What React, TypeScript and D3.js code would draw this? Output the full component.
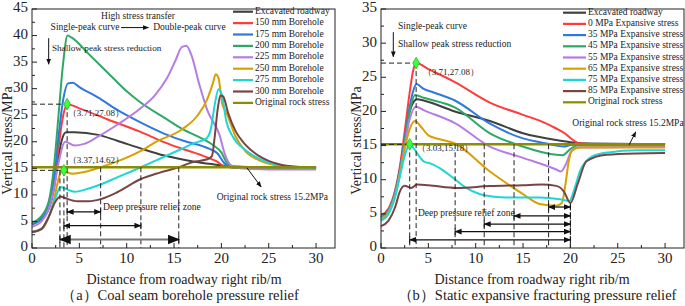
import React from 'react';
import * as d3 from 'd3';

type P = [number, number];

// ---------- shared ----------
const xTicks = [0, 5, 10, 15, 20, 25, 30];
const leftYTicks = [0, 5, 10, 15, 20, 25, 30, 35, 40, 45];
const rightYTicks = [0, 5, 10, 15, 20, 25, 30, 35];
const originalStress = 15.2;

// ---------- left panel (a) ----------
const leftNames = ['Excavated roadway', '150 mm Borehole', '175 mm Borehole', '200 mm Borehole', '225 mm Borehole', '250 mm Borehole', '275 mm Borehole', '300 mm Borehole', 'Original rock stress'];

const leftExcavated: P[] = [[0, 4.5], [1, 5.5], [1.8, 7.5], [2.3, 11], [2.7, 16], [3.1, 20], [3.6, 21.8], [4.5, 21.8], [7, 21.3], [9, 20.2], [11.4, 18.8], [14, 17.4], [17, 16.3], [19, 15.8], [21, 15.4], [24, 15.2], [30, 15.1]];
const left150: P[] = [[0, 4.5], [1, 5.5], [1.8, 8], [2.3, 12], [2.8, 19], [3.3, 25], [3.71, 27.08], [5, 26.3], [8, 24.2], [11.4, 21.9], [14, 19.9], [16, 18.6], [18, 17.4], [19.5, 16.3], [20.3, 15.4], [22, 15.1], [30, 15.0]];
const left175: P[] = [[0, 4.5], [1, 5.5], [1.8, 8.5], [2.3, 13], [2.8, 21], [3.3, 28], [3.8, 31.0], [4.3, 31.1], [5, 30.3], [7, 28.3], [9, 26], [11.4, 23.7], [14, 21.5], [16, 20.2], [18.7, 18.7], [19.6, 17.8], [20.3, 16], [21, 15.2], [23, 15.0], [30, 15.0]];
const left200: P[] = [[0, 4.8], [1, 6], [1.8, 9], [2.3, 15], [2.8, 25], [3.3, 35], [3.75, 40.0], [4.2, 39.6], [6, 36.5], [8, 33], [10, 29.5], [11.4, 27.5], [14, 24.5], [16, 22.3], [17.5, 21], [19.1, 19.4], [20, 18.0], [20.6, 16], [21.5, 15.2], [24, 15.0], [30, 15.0]];
const left225: P[] = [[0, 4], [1, 5], [1.8, 7.5], [2.3, 11], [2.8, 16], [3.5, 20.0], [4.5, 19.3], [5.5, 19.6], [7, 21], [9, 23.2], [11.4, 26.2], [13, 28.8], [14.2, 31.8], [15.2, 35.5], [15.8, 37.8], [16.3, 38.1], [16.8, 36.5], [17.7, 30.6], [18.5, 26], [19.8, 21.3], [20.4, 17.5], [21, 15.6], [22, 15], [25, 14.8], [30, 14.8]];
const left250: P[] = [[0, 3], [1, 3.5], [1.8, 6], [2.3, 9], [2.8, 13], [3.1, 14.5], [3.6, 14.3], [4.3, 14.0], [5.5, 14.3], [7.25, 15.2], [9, 16.3], [11.4, 18.2], [13.1, 20.0], [15.9, 22.4], [17.5, 25], [18.5, 28], [19.1, 31], [19.4, 32.7], [19.7, 32], [20.1, 27], [20.5, 25.6], [21.5, 21], [22.5, 18.3], [24, 16.5], [26, 15.5], [28, 15.2], [30, 15.1]];
const left275: P[] = [[0, 3], [1, 3.6], [1.8, 6], [2.4, 9], [3.0, 11.5], [3.5, 11.2], [4.5, 10.6], [6, 11.2], [7.3, 12.0], [9, 13.3], [11.5, 15.2], [13.5, 16.8], [15.6, 18.5], [17.2, 19.8], [18.4, 20.6], [18.9, 22.5], [19.3, 27], [19.7, 29.9], [20.1, 28.5], [20.5, 24], [21.2, 21], [22.5, 18.5], [24, 16.8], [26, 15.6], [28, 15.2], [30, 15.1]];
const left300: P[] = [[0, 3], [1, 3.6], [1.8, 6], [2.4, 8.5], [3.0, 9.7], [3.5, 9.4], [4.8, 8.8], [6, 8.8], [7.25, 9.2], [9, 10.5], [11.4, 12.9], [13.5, 14.2], [15.5, 15.2], [17, 16.2], [18.5, 16.7], [19.0, 17.3], [19.3, 21], [19.6, 26], [19.9, 28.7], [20.2, 28.5], [20.7, 25.5], [21.5, 22], [22.5, 19.5], [24, 17.3], [26, 15.8], [28, 15.3], [30, 15.2]];

// ---------- right panel (b) ----------
const rightNames = ['Excavated roadway', '0 MPa Expansive stress', '35 MPa Expansive stress', '45 MPa Expansive stress', '55 MPa Expansive stress', '65 MPa Expansive stress', '75 MPa Expansive stress', '85 MPa Expansive stress', 'Original rock stress'];

const rightExcavated: P[] = [[0, 4.5], [0.8, 5.5], [1.5, 8], [2, 11.5], [2.5, 16], [3, 19.8], [3.5, 21.5], [3.8, 21.8], [4.5, 21.6], [7.8, 20.0], [11.5, 18.6], [15, 16.8], [18.5, 15.8], [20, 15.5], [22, 15.3], [30, 15.2]];
const right0: P[] = [[0, 4.8], [0.8, 5.8], [1.5, 8.5], [2, 12], [2.5, 17], [3, 22.5], [3.4, 26], [3.71, 27.08], [5, 26.2], [7.8, 24.3], [11.5, 21.3], [15, 19.5], [17, 18.5], [18.5, 17.5], [19.5, 16.7], [20.1, 16], [21, 15.3], [23, 15.2], [30, 15.2]];
const right35: P[] = [[0, 4.6], [0.8, 5.6], [1.5, 8.2], [2, 11.5], [2.5, 16], [3, 20.5], [3.4, 23], [3.75, 24], [4.5, 23.3], [5.5, 22.8], [7.8, 21.6], [11.5, 18.2], [15, 16.05], [17.5, 15.3], [18.5, 15.0], [19.3, 14.85], [20, 15.1], [21, 15.2], [30, 15.2]];
const right45: P[] = [[0, 4.5], [0.8, 5.5], [1.5, 8], [2, 11.3], [2.5, 15.5], [3, 19.8], [3.6, 22.4], [4.5, 22], [7.8, 20.6], [11.5, 16.8], [15, 14.85], [18.5, 13.65], [19.2, 13.6], [20, 14.5], [20.7, 15], [30, 15.0]];
const right55: P[] = [[0, 4.3], [0.8, 5.3], [1.5, 7.8], [2, 11], [2.5, 15], [3, 18.7], [3.7, 20.7], [4.5, 20.2], [7.8, 18.3], [11.5, 14.85], [15, 13.2], [18.5, 11.5], [19, 11.2], [19.6, 12.5], [20.1, 14.2], [20.7, 14.7], [30, 14.8]];
const right65: P[] = [[0, 4.2], [0.8, 5.2], [1.5, 7.6], [2, 10.8], [2.5, 14.5], [3, 17.3], [3.6, 18.6], [4.2, 17.8], [5.0, 16.5], [6.0, 16.0], [7.8, 15.3], [11.5, 11.2], [15, 7.9], [16.75, 6.45], [18.5, 6.2], [19.1, 6.6], [19.5, 9.5], [19.8, 12.5], [20.2, 14.3], [21, 14.7], [30, 14.7]];
const right75: P[] = [[0, 4], [0.8, 5], [1.5, 7.5], [2, 10.5], [2.5, 13.5], [3.03, 15.18], [3.5, 14.5], [4, 13.5], [4.6, 12.6], [5.2, 12.4], [6.2, 11.7], [7.6, 10.3], [9, 8.8], [10.4, 7.9], [12, 7.5], [13.2, 7.4], [16.7, 7.4], [18.9, 7.15], [19.9, 6.9], [20.4, 8.5], [21, 11.2], [22.3, 13.4], [24, 14.0], [27, 14.3], [30, 14.3]];
const right85: P[] = [[0, 3.2], [0.8, 4], [1.5, 6], [2, 8.3], [2.5, 9.1], [3.2, 8.8], [3.8, 9.3], [5, 9.2], [8, 8.8], [11.5, 9.07], [15, 9.2], [17, 9.3], [18.5, 9.1], [19.3, 8.3], [20, 6.6], [20.8, 9.5], [21.7, 12.7], [23.8, 13.65], [27, 13.85], [30, 13.9]];

const seriesColors = ['#404040', '#ff3b3b', '#2f78e0', '#2ea866', '#b67ce6', '#d9a000', '#1ed6d6', '#7a4444', '#8c8c00'];

type Arrow = { x1: number; x2: number; y: number; color?: string; w?: number };

interface PanelProps {
  x0: number; x1: number; y0: number; y1: number; yMax: number;
  yTicks: number[];
  series: P[][];
  names: string[];
  legendX: number; legendY: number; legendStep: number; legendLen: number; legendFont: number;
  peaks: P[];
  hDash: P[];
  vDash: { x: number; yTop: number }[];
  arrows: Arrow[];
  texts: { x: number; y: number; t: string; size: number; anchor?: string }[];
  downArrow: { x: number; y1: number; y2: number };
  rockArrow: { xa: number; ya: number; xb: number; yb: number };
  extra?: (x: d3.ScaleLinear<number, number>, y: d3.ScaleLinear<number, number>) => React.ReactNode;
  captionX: number; titleX: number; caption: string; yTitleX: number;
  id: string;
}

function Panel(p: PanelProps) {
  const x = d3.scaleLinear().domain([0, 32]).range([p.x0, p.x1]);
  const y = d3.scaleLinear().domain([0, p.yMax]).range([p.y1, p.y0]);
  const line = d3.line<P>().x(d => x(d[0])).y(d => y(d[1])).curve(d3.curveMonotoneX);
  const serif = '"Liberation Serif", "Times New Roman", serif';
  const xMinor = d3.range(2.5, 32, 5);
  const yMinor = d3.range(2.5, p.yMax, 5);
  const aid = `arr-${p.id}`;
  return (
    <g fontFamily={serif}>
      <defs>
        <marker id={aid} viewBox="0 0 10 10" refX="9" refY="5" markerWidth="6" markerHeight="6" orient="auto-start-reverse">
          <path d="M0,1 L10,5 L0,9 z" fill="#111" />
        </marker>
      </defs>
      {/* series */}
      {p.series.map((s, i) => (
        <path key={i} d={line(s) || ''} fill="none" stroke={seriesColors[i]} strokeWidth={2} />
      ))}
      <path d={line([[0, originalStress], [30, originalStress]]) || ''} fill="none" stroke={seriesColors[8]} strokeWidth={2.4} />
      {/* dashed guide lines */}
      {p.hDash.map((d, i) => (
        <line key={'h' + i} x1={x(0)} x2={x(d[0])} y1={y(d[1])} y2={y(d[1])} stroke="#222" strokeWidth={1} strokeDasharray="5,3" />
      ))}
      {p.vDash.map((d, i) => (
        <line key={'v' + i} x1={x(d.x)} x2={x(d.x)} y1={y(d.yTop)} y2={y(0)} stroke="#222" strokeWidth={1} strokeDasharray="5,3" />
      ))}
      {/* double arrows */}
      {p.arrows.map((a, i) => (
        <g key={'a' + i}>
          <line x1={x(a.x1)} x2={x(a.x2)} y1={y(a.y)} y2={y(a.y)} stroke={a.color || '#111'} strokeWidth={a.w || 1.2} markerStart={`url(#${aid})`} markerEnd={`url(#${aid})`} />
          <line x1={x(a.x1)} x2={x(a.x1)} y1={y(a.y) - 3.5} y2={y(a.y) + 3.5} stroke="#111" strokeWidth={1} />
          <line x1={x(a.x2)} x2={x(a.x2)} y1={y(a.y) - 3.5} y2={y(a.y) + 3.5} stroke="#111" strokeWidth={1} />
        </g>
      ))}
      {/* peak markers */}
      {p.peaks.map((d, i) => (
        <path key={'m' + i} d={d3.symbol(d3.symbolDiamond, 40)() || ''} transform={`translate(${x(d[0])},${y(d[1])})`} fill="#3cff3c" stroke="#1a9a1a" strokeWidth={0.6} />
      ))}
      {/* annotation texts */}
      {p.texts.map((t, i) => (
        <text key={'t' + i} x={x(t.x)} y={y(t.y)} fontSize={t.size} textAnchor={t.anchor || 'start'} dominantBaseline="middle" fill="#222">{t.t}</text>
      ))}
      <line x1={x(p.downArrow.x)} x2={x(p.downArrow.x)} y1={y(p.downArrow.y1)} y2={y(p.downArrow.y2)} stroke="#111" strokeWidth={1} markerEnd={`url(#${aid})`} />
      <line x1={x(p.rockArrow.xa)} x2={x(p.rockArrow.xb)} y1={y(p.rockArrow.ya)} y2={y(p.rockArrow.yb)} stroke="#111" strokeWidth={1} markerEnd={`url(#${aid})`} />
      {p.extra && p.extra(x, y)}
      {/* legend */}
      {p.names.map((n, i) => (
        <g key={'l' + i} transform={`translate(${p.legendX},${p.legendY + i * p.legendStep})`}>
          <line x1={0} x2={p.legendLen} y1={0} y2={0} stroke={seriesColors[i]} strokeWidth={2.2} />
          <text x={p.legendLen + 2} y={0} dominantBaseline="middle" fontSize={p.legendFont} fill="#222">{n}</text>
        </g>
      ))}
      {/* frame */}
      <rect x={p.x0} y={p.y0} width={p.x1 - p.x0} height={p.y1 - p.y0} fill="none" stroke="#222" strokeWidth={1} />
      {/* x ticks */}
      {xTicks.map(t => (
        <g key={'xt' + t}>
          <line x1={x(t)} x2={x(t)} y1={p.y1} y2={p.y1 - 5} stroke="#222" />
          <text x={x(t)} y={p.y1 + 12} fontSize={15} textAnchor="middle" dominantBaseline="middle" fill="#222">{t}</text>
        </g>
      ))}
      {xMinor.map(t => <line key={'xm' + t} x1={x(t)} x2={x(t)} y1={p.y1} y2={p.y1 - 3} stroke="#222" />)}
      {p.yTicks.map(t => (
        <g key={'yt' + t}>
          <line x1={p.x0} x2={p.x0 + 5} y1={y(t)} y2={y(t)} stroke="#222" />
          <text x={p.x0 - 4} y={y(t)} fontSize={15} textAnchor="end" dominantBaseline="middle" fill="#222">{t}</text>
        </g>
      ))}
      {yMinor.map(t => <line key={'ym' + t} x1={p.x0} x2={p.x0 + 3} y1={y(t)} y2={y(t)} stroke="#222" />)}
      {/* axis titles */}
      <text x={p.titleX} y={p.y1 + 33} fontSize={14} textAnchor="middle" dominantBaseline="middle" fill="#222">Distance from roadway right rib/m</text>
      <text x={p.captionX} y={p.y1 + 49} fontSize={14.5} textAnchor="middle" dominantBaseline="middle" fill="#222">{p.caption}</text>
      <text transform={`translate(${p.yTitleX},${(p.y0 + p.y1) / 2 + 12}) rotate(-90)`} fontSize={14} textAnchor="middle" dominantBaseline="middle" fill="#222">Vertical stress/MPa</text>
    </g>
  );
}

export default function App() {
  return (
    <svg width={685} height={306} style={{ position: 'absolute', left: 0, top: 0, background: '#fff' }}>
      <rect width={685} height={306} fill="#fff" />
      <Panel
        id="a" x0={32} x1={335} y0={9} y1={248} yMax={45} yTicks={leftYTicks}
        series={[leftExcavated, left150, left175, left200, left225, left250, left275, left300]}
        names={leftNames} legendX={233} legendY={11.7} legendStep={11.4} legendLen={20} legendFont={9.5}
        peaks={[[3.71, 27.08], [3.37, 14.62]]}
        hDash={[[3.71, 27.08], [3.37, 14.62]]}
        vDash={[{ x: 3.71, yTop: 27.08 }, { x: 3.37, yTop: 14.62 }, { x: 2.95, yTop: 14.62 }, { x: 7.25, yTop: 15.2 }, { x: 11.5, yTop: 15.2 }, { x: 15.5, yTop: 15.2 }]}
        arrows={[{ x1: 3.71, x2: 7.25, y: 6.8 }, { x1: 3.37, x2: 11.5, y: 4.2 }, { x1: 2.95, x2: 15.5, y: 1.6, color: '#777', w: 2 }]}
        texts={[
          { x: 11.2, y: 43.5, t: 'High stress transfer', size: 9.5, anchor: 'middle' },
          { x: 5.6, y: 41.5, t: 'Single-peak curve', size: 9.5, anchor: 'middle' },
          { x: 12.8, y: 41.5, t: 'Double-peak curve', size: 9.5 },
          { x: 2.1, y: 37.5, t: 'Shallow peak stress reduction', size: 9.2 },
          { x: 3.77, y: 25.2, t: '（3.71,27.08）', size: 9 },
          { x: 3.77, y: 16.4, t: '（3.37,14.62）', size: 9 },
          { x: 7.5, y: 7.6, t: 'Deep pressure relief zone', size: 9.6 },
          { x: 19.5, y: 9.4, t: 'Original rock stress 15.2MPa', size: 9.5 },
        ]}
        downArrow={{ x: 1.76, y1: 39.5, y2: 34.6 }}
        rockArrow={{ xa: 22.7, ya: 15.1, xb: 24.2, yb: 11.5 }}
        extra={(x, y) => (
          <line x1={x(9.4)} x2={x(12.3)} y1={y(41.5)} y2={y(41.5)} stroke="#111" strokeWidth={1} markerEnd="url(#arr-a)" />
        )}
        titleX={184} captionX={180} caption="（a）Coal seam borehole pressure relief" yTitleX={9}
      />
      <Panel
        id="b" x0={381} x1={684} y0={9} y1={248} yMax={35} yTicks={rightYTicks}
        series={[rightExcavated, right0, right35, right45, right55, right65, right75, right85]}
        names={rightNames} legendX={563} legendY={12.7} legendStep={11.2} legendLen={23} legendFont={9.5}
        peaks={[[3.71, 27.08], [3.03, 15.18]]}
        hDash={[[3.71, 27.08], [3.03, 15.18]]}
        vDash={[{ x: 3.71, yTop: 27.08 }, { x: 3.03, yTop: 15.18 }, { x: 7.83, yTop: 15.2 }, { x: 10.9, yTop: 15.2 }, { x: 14.05, yTop: 15.2 }, { x: 17.7, yTop: 15.2 }, { x: 20, yTop: 6.4 }]}
        arrows={[{ x1: 17.7, x2: 20, y: 6.0 }, { x1: 14.05, x2: 20, y: 4.7 }, { x1: 10.9, x2: 20, y: 3.5 }, { x1: 7.83, x2: 20, y: 2.4 }, { x1: 3.03, x2: 20, y: 1.2 }]}
        texts={[
          { x: 1.8, y: 32.4, t: 'Single-peak curve', size: 9.5 },
          { x: 1.8, y: 29.7, t: 'Shallow peak stress reduction', size: 9.5 },
          { x: 4.4, y: 25.6, t: '（3.71,27.08）', size: 9 },
          { x: 3.8, y: 14.5, t: '（3.03,15.18）', size: 9 },
          { x: 3.9, y: 5.0, t: 'Deep pressure relief zone', size: 9.5 },
          { x: 20.2, y: 18.2, t: 'Original rock stress 15.2MPa', size: 9.5 },
        ]}
        downArrow={{ x: 1.3, y1: 31.6, y2: 28.0 }}
        rockArrow={{ xa: 26.2, ya: 15.1, xb: 26.9, yb: 17.0 }}
        titleX={532} captionX={537} caption="（b）Static expansive fracturing pressure relief" yTitleX={358}
      />
    </svg>
  );
}
